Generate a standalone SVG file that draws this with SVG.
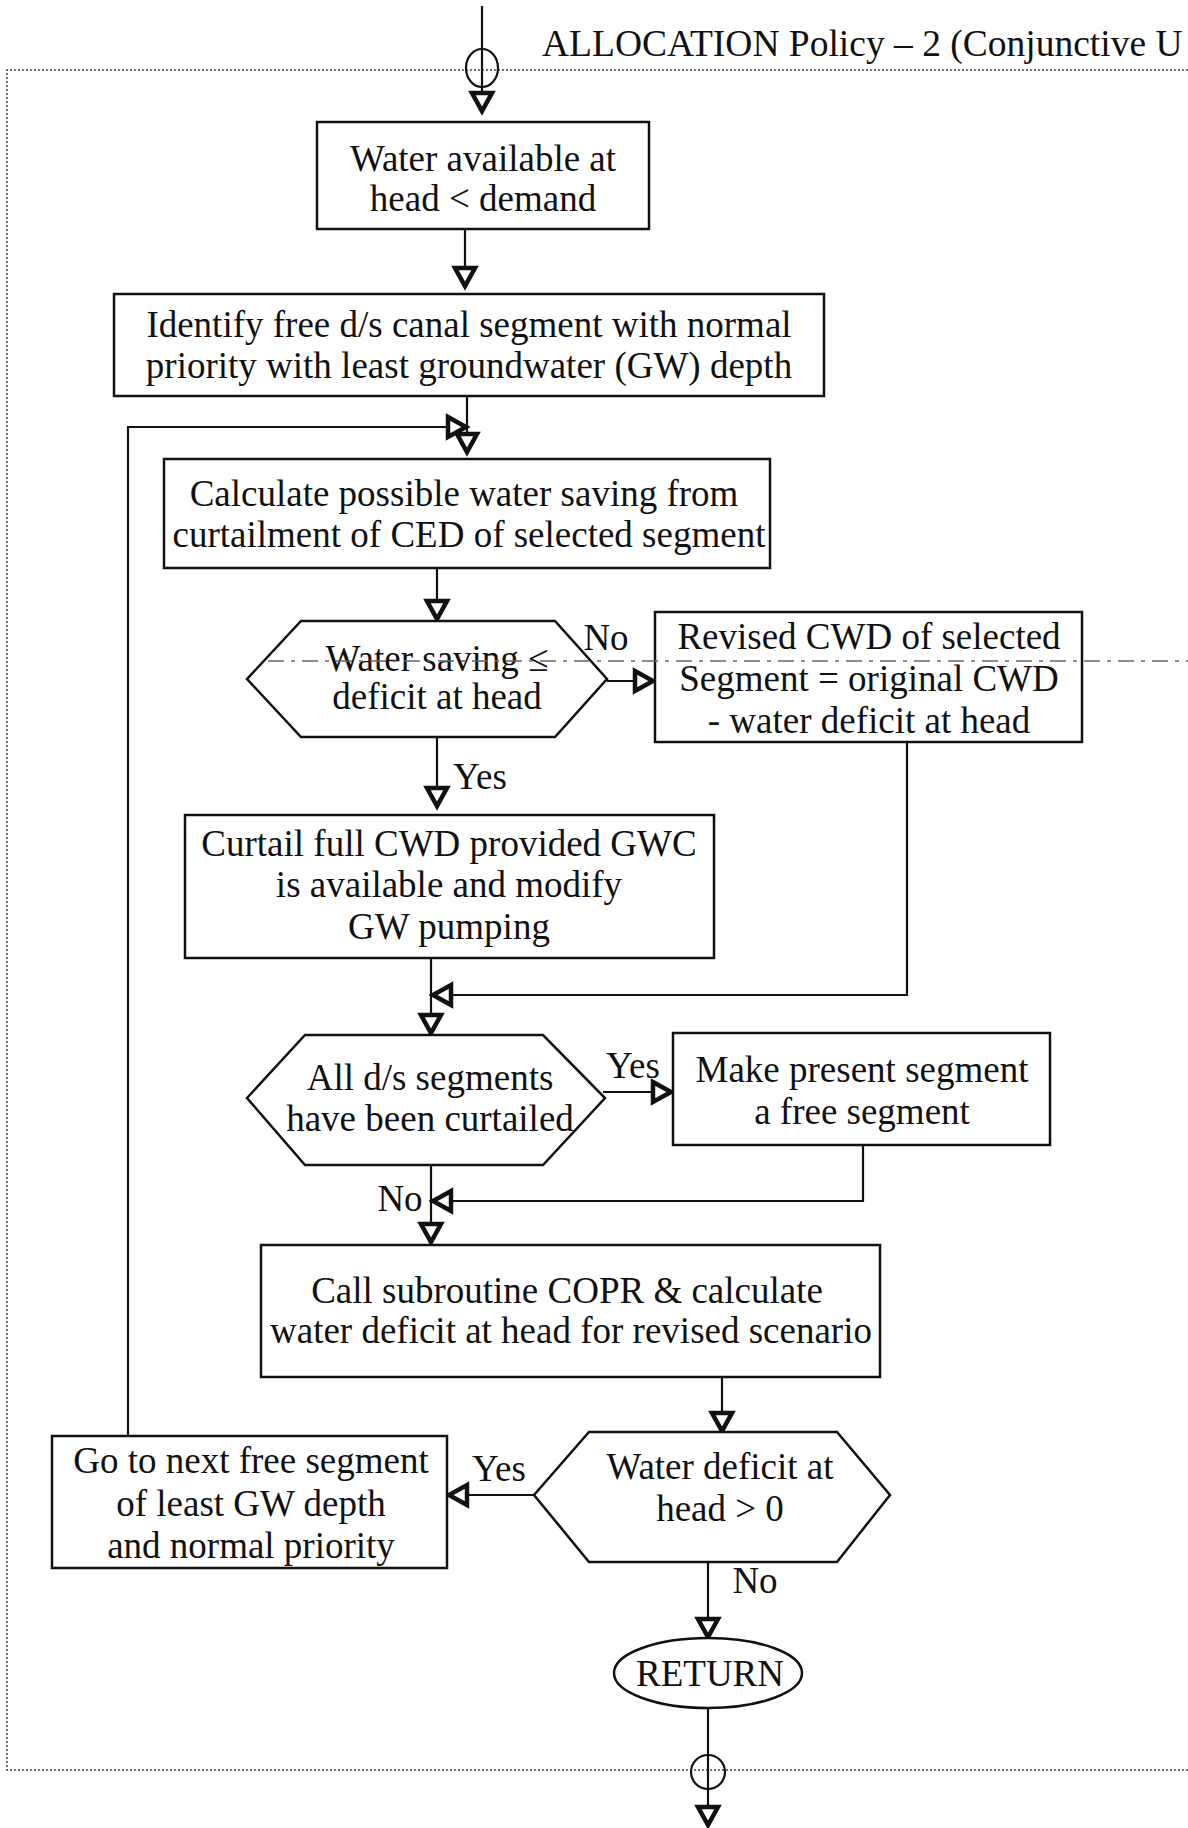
<svg xmlns="http://www.w3.org/2000/svg" width="1188" height="1828" viewBox="0 0 1188 1828">
  <style>
    .box { fill: #ffffff; stroke: #111; stroke-width: 2.5; }
    .t { font-family: "Liberation Serif", "Times New Roman", serif; font-size: 37px; fill: #111; text-anchor: middle; }
    .lbl { font-family: "Liberation Serif", "Times New Roman", serif; font-size: 37px; fill: #111; text-anchor: middle; }
    .conn { fill: none; stroke: #111; stroke-width: 2.2; }
    .frame { fill: none; stroke: #444; stroke-width: 1.5; stroke-dasharray: 2 2; }
  </style>
  <defs>
    <!-- hollow triangular arrowhead, heavy outline -->
    <marker id="arr" markerUnits="userSpaceOnUse" markerWidth="26" markerHeight="26" viewBox="0 0 26 26" refX="21" refY="13" orient="auto" overflow="visible">
      <path d="M3,3 L21,13 L3,23 Z" fill="#fff" stroke="#111" stroke-width="4.5" stroke-linejoin="miter"/>
    </marker>
  </defs>

  <rect width="1188" height="1828" fill="#ffffff"/>

  <!-- page frame -->
  <g id="frame">
    <polyline class="frame" points="1188,70 7,70 7,1770 1188,1770"/>
  </g>

  <text id="title" x="542" y="56" font-family="Liberation Serif, Times New Roman, serif" font-size="37.5" fill="#111">ALLOCATION Policy – 2 (Conjunctive U</text>

  <!-- connectors -->
  <g id="connectors">
    <line class="conn" x1="482" y1="6" x2="482" y2="111" marker-end="url(#arr)"/>
    <ellipse cx="482" cy="68" rx="16" ry="19" fill="none" stroke="#111" stroke-width="2.2"/>
    <line class="conn" x1="465" y1="229" x2="465" y2="286" marker-end="url(#arr)"/>
    <line class="conn" x1="467" y1="396" x2="467" y2="452" marker-end="url(#arr)"/>
    <polyline class="conn" points="128,1436 128,427 466,427" marker-end="url(#arr)"/>
    <line class="conn" x1="437" y1="568" x2="437" y2="619" marker-end="url(#arr)"/>
    <line class="conn" x1="607" y1="681" x2="653" y2="681" marker-end="url(#arr)"/>
    <line class="conn" x1="437" y1="737" x2="437" y2="806" marker-end="url(#arr)"/>
    <polyline class="conn" points="907,742 907,995 433,995" marker-end="url(#arr)"/>
    <line class="conn" x1="431" y1="958" x2="431" y2="1033" marker-end="url(#arr)"/>
    <line class="conn" x1="603" y1="1092" x2="671" y2="1092" marker-end="url(#arr)"/>
    <polyline class="conn" points="863,1145 863,1201 433,1201" marker-end="url(#arr)"/>
    <line class="conn" x1="431" y1="1165" x2="431" y2="1242" marker-end="url(#arr)"/>
    <line class="conn" x1="722" y1="1377" x2="722" y2="1431" marker-end="url(#arr)"/>
    <line class="conn" x1="534" y1="1495" x2="449" y2="1495" marker-end="url(#arr)"/>
    <line class="conn" x1="708" y1="1562" x2="708" y2="1637" marker-end="url(#arr)"/>
    <line class="conn" x1="708" y1="1708" x2="708" y2="1825" marker-end="url(#arr)"/>
    <circle cx="708" cy="1772" r="17" fill="none" stroke="#111" stroke-width="2.2"/>

    <text class="lbl" x="606" y="650">No</text>
    <text class="lbl" x="480" y="789">Yes</text>
    <text class="lbl" x="633" y="1078">Yes</text>
    <text class="lbl" x="400" y="1211">No</text>
    <text class="lbl" x="499" y="1481">Yes</text>
    <text class="lbl" x="755" y="1593">No</text>
  </g>

  <g id="head-check">
    <rect class="box" x="317" y="122" width="332" height="107"/>
    <text class="t" x="483" y="171">Water available at</text>
    <text class="t" x="483" y="211">head &lt; demand</text>
  </g>

  <g id="identify-segment">
    <rect class="box" x="114" y="294" width="710" height="102"/>
    <text class="t" x="469" y="337">Identify free d/s canal segment with normal</text>
    <text class="t" x="469" y="378">priority with least groundwater (GW) depth</text>
  </g>

  <g id="calc-saving">
    <rect class="box" x="164" y="459" width="606" height="109"/>
    <text class="t" x="464" y="506">Calculate possible water saving from</text>
    <text class="t" x="469" y="547">curtailment of CED of selected segment</text>
  </g>

  <g id="saving-check">
    <polygon class="box" points="247,679 301,621 555,621 607,679 555,737 301,737"/>
    <text class="t" x="437" y="671">Water saving ≤</text>
    <text class="t" x="437" y="709">deficit at head</text>
  </g>

  <g id="revised-cwd">
    <rect class="box" x="655" y="612" width="427" height="130"/>
    <text class="t" x="869" y="649">Revised CWD of selected</text>
    <text class="t" x="869" y="691">Segment = original CWD</text>
    <text class="t" x="869" y="733">- water deficit at head</text>
  </g>

  <g id="curtail-full">
    <rect class="box" x="185" y="815" width="529" height="143"/>
    <text class="t" x="449" y="856">Curtail full CWD provided GWC</text>
    <text class="t" x="449" y="897">is available and modify</text>
    <text class="t" x="449" y="939">GW pumping</text>
  </g>

  <g id="all-curtailed">
    <polygon class="box" points="247,1098 305,1035 543,1035 605,1098 543,1165 305,1165"/>
    <text class="t" x="430" y="1090">All d/s segments</text>
    <text class="t" x="430" y="1131">have been curtailed</text>
  </g>

  <g id="make-free">
    <rect class="box" x="673" y="1033" width="377" height="112"/>
    <text class="t" x="862" y="1082">Make present segment</text>
    <text class="t" x="862" y="1124">a free segment</text>
  </g>

  <g id="call-copr">
    <rect class="box" x="261" y="1245" width="619" height="132"/>
    <text class="t" x="567" y="1303">Call subroutine COPR &amp; calculate</text>
    <text class="t" x="571" y="1343">water deficit at head for revised scenario</text>
  </g>

  <g id="deficit-check">
    <polygon class="box" points="534,1495 589,1432 837,1432 890,1495 837,1562 589,1562"/>
    <text class="t" x="720" y="1479">Water deficit at</text>
    <text class="t" x="720" y="1521">head &gt; 0</text>
  </g>

  <g id="next-segment">
    <rect class="box" x="52" y="1436" width="395" height="132"/>
    <text class="t" x="251" y="1473">Go to next free segment</text>
    <text class="t" x="251" y="1516">of least GW depth</text>
    <text class="t" x="251" y="1558">and normal priority</text>
  </g>

  <g id="return">
    <ellipse class="box" cx="708" cy="1673" rx="94" ry="35"/>
    <text class="t" x="710" y="1686">RETURN</text>
  </g>

  <!-- faint dashed rule crossing the upper decision row -->
  <line x1="268" y1="661" x2="1188" y2="661" stroke="#666" stroke-width="1.4" stroke-dasharray="16 7 4 7"/>
</svg>
